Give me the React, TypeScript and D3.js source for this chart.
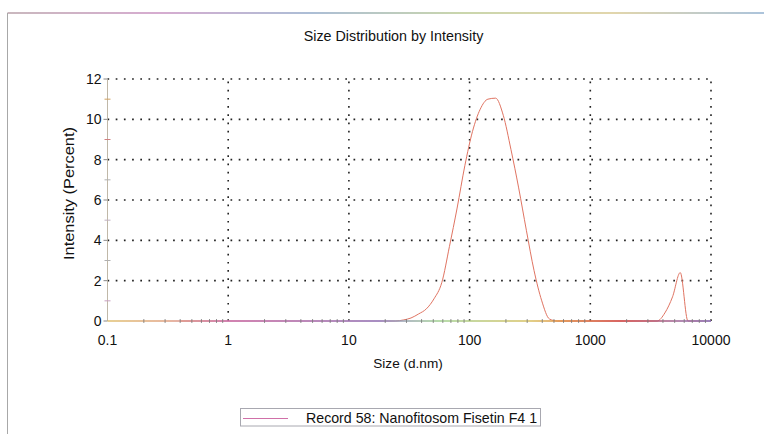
import React from "react";
import * as d3 from "d3";

// Size classes (d.nm) and intensity (%) for the record
const sizes = [
  0.4, 24.4, 28.2, 32.7, 37.8, 43.8, 50.7, 58.8, 68.1, 78.8, 91.3, 105.7, 122.4,
  141.8, 164.2, 190.1, 220.2, 255.0, 295.3, 342.0, 396.1, 458.7, 531.2,
  3092, 3581, 4147, 4802, 5562, 6442, 10000,
];
const intensity = [
  0, 0, 0.05, 0.15, 0.35, 0.6, 1.1, 1.9, 3.7, 5.6, 7.7, 9.4, 10.5,
  11.0, 11.05, 10.2, 8.5, 6.6, 4.5, 2.5, 1.0, 0.1, 0,
  0, 0, 0.4, 1.2, 2.4, 0, 0,
];

const xTicks = [0.1, 1, 10, 100, 1000, 10000];
const xTickLabels = ["0.1", "1", "10", "100", "1000", "10000"];
const yTicks = [0, 2, 4, 6, 8, 10, 12];
const yMinorTicks = [1, 3, 5, 7, 9, 11];
const yMinorColors = ["#c8a0c0", "#b0b0b0", "#c0b0c0", "#b0b0b0", "#d08080", "#d0a060"];

const title = "Size Distribution by Intensity";
const xLabel = "Size (d.nm)";
const yLabel = "Intensity (Percent)";
const legendLabel = "Record 58: Nanofitosom Fisetin F4 1";

const W = 764;
const H = 434;
const FONT = "'Liberation Sans', Arial, sans-serif";

export default function App() {
  const x = d3.scaleLog().domain([0.1, 10000]).range([107.5, 711]);
  const y = d3.scaleLinear().domain([0, 12]).range([321, 79]);

  const line = d3
    .line<number>()
    .x((_, i) => x(sizes[i]))
    .y((d) => y(d))
    .curve(d3.curveMonotoneX);

  const minorX: number[] = [];
  for (let e = -1; e < 4; e++) {
    for (let m = 2; m <= 9; m++) minorX.push(m * Math.pow(10, e));
  }

  const dots = "1.7 6.5";

  return (
    <div style={{ position: "absolute", left: 0, top: 0, width: W, height: H, background: "#fff" }}>
      <svg width={W} height={H} style={{ display: "block" }} fontFamily={FONT}>
        <defs>
          <linearGradient id="frameTop" gradientUnits="userSpaceOnUse" x1="8" x2={W} y1="0" y2="0">
            <stop offset="0" stopColor="#b8a0a8" />
            <stop offset="0.2" stopColor="#c890c0" />
            <stop offset="0.4" stopColor="#90a8c8" />
            <stop offset="0.6" stopColor="#b8c890" />
            <stop offset="0.8" stopColor="#d8c890" />
            <stop offset="1" stopColor="#90b0d0" />
          </linearGradient>
          <linearGradient id="baseAxis" gradientUnits="userSpaceOnUse" x1={x(0.1)} x2={x(10000)} y1="0" y2="0">
            <stop offset="0" stopColor="#e0c070" />
            <stop offset="0.1" stopColor="#e0a080" />
            <stop offset="0.2" stopColor="#c870b0" />
            <stop offset="0.45" stopColor="#9080c8" />
            <stop offset="0.55" stopColor="#a0d090" />
            <stop offset="0.7" stopColor="#d8c060" />
            <stop offset="0.75" stopColor="#e09040" />
            <stop offset="0.85" stopColor="#d04848" />
            <stop offset="1" stopColor="#8070c0" />
          </linearGradient>
        </defs>

        {/* outer frame */}
        <line x1={7.5} x2={W} y1={13} y2={13} stroke="url(#frameTop)" strokeWidth={1.3} />
        <line x1={7.5} x2={7.5} y1={13} y2={H} stroke="#a8a8a8" strokeWidth={1} />

        <text x={393.5} y={41} textAnchor="middle" fontSize={14.3} fill="#111">
          {title}
        </text>

        {/* dotted grid */}
        {yTicks.filter((t) => t > 0).map((t) => (
          <line key={"gy" + t} x1={x(0.1)} x2={x(10000)} y1={y(t)} y2={y(t)}
            stroke="#222" strokeWidth={1.6} strokeDasharray={dots} />
        ))}
        {xTicks.filter((t) => t > 0.1).map((t) => (
          <line key={"gx" + t} x1={x(t)} x2={x(t)} y1={y(0)} y2={y(12)}
            stroke="#222" strokeWidth={1.6} strokeDasharray={dots} />
        ))}

        {/* y axis */}
        <line x1={x(0.1)} x2={x(0.1)} y1={y(0)} y2={y(12)} stroke="#c0b8a8" strokeWidth={1} />
        {yTicks.map((t) => (
          <line key={"yt" + t} x1={x(0.1) - 4} x2={x(0.1)} y1={y(t)} y2={y(t)} stroke="#888" />
        ))}
        {yMinorTicks.map((t, i) => (
          <line key={"ym" + t} x1={x(0.1) - 3} x2={x(0.1) + 3} y1={y(t)} y2={y(t)} stroke={yMinorColors[i]} />
        ))}
        {yTicks.map((t) => (
          <text key={"yl" + t} x={101.5} y={y(t)} dy="0.36em" textAnchor="end" fontSize={14} fill="#111">
            {t}
          </text>
        ))}

        {/* data */}
        <path d={line(intensity) ?? ""} fill="none" stroke="#e07462" strokeWidth={1} />

        {/* x axis */}
        <line x1={x(0.1)} x2={x(10000)} y1={y(0)} y2={y(0)} stroke="url(#baseAxis)" strokeWidth={1.4} />
        {minorX.map((t, i) => (
          <line key={"xm" + i} x1={x(t)} x2={x(t)} y1={y(0) - 2} y2={y(0) + 2} stroke="#777" strokeWidth={0.8} />
        ))}
        {xTicks.map((t, i) => (
          <text key={"xl" + t} x={x(t)} y={345} textAnchor="middle" fontSize={14} fill="#111">
            {xTickLabels[i]}
          </text>
        ))}

        <text x={408} y={368} textAnchor="middle" fontSize={13.6} fill="#111">
          {xLabel}
        </text>
        <text transform={`translate(74,193.5) rotate(-90)`} textAnchor="middle" fontSize={14.5}
          textLength={133} lengthAdjust="spacingAndGlyphs" fill="#111">
          {yLabel}
        </text>

        {/* legend */}
        <rect x={240.5} y={408.5} width={300} height={17.5} fill="#fff" stroke="#a8a8b0" strokeWidth={1} />
        <line x1={243} x2={288} y1={418.5} y2={418.5} stroke="#d070a8" strokeWidth={1} />
        <text x={306} y={423} fontSize={14.2} fill="#111">
          {legendLabel}
        </text>
      </svg>
    </div>
  );
}
